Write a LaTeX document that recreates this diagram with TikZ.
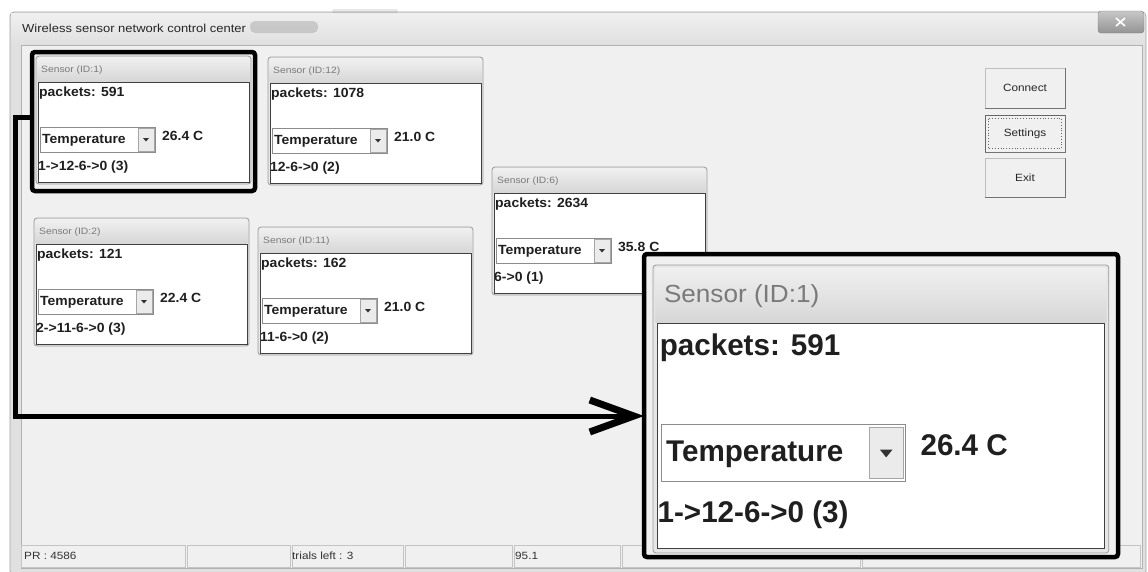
\documentclass[tikz,border=0pt]{standalone}
\usepackage{fontspec}
\setmainfont{Liberation Sans}
\newfontfamily\uibold[FakeStretch=1.05]{Liberation Sans Bold}
\newfontfamily\uilight[FakeStretch=1.12]{Liberation Sans}
\usetikzlibrary{arrows.meta}

\definecolor{winbg}{HTML}{F0F0F0}
\definecolor{winframe}{HTML}{A4A4A4}
\definecolor{titletop}{HTML}{F0F0F0}
\definecolor{titlebot}{HTML}{E0E0E0}
\definecolor{grpline}{HTML}{9C9C9C}
\definecolor{grpfill}{HTML}{E6E6E6}
\definecolor{grpshade}{HTML}{D6D6D6}
\definecolor{grptext}{HTML}{7A7A7A}
\definecolor{innerline}{HTML}{404040}
\definecolor{cellline}{HTML}{C4C4C4}

\tikzset{
  ttl/.style={inner sep=0pt, anchor=west, text=grptext, font=\uilight\fontsize{9.2}{10}\selectfont},
  paneltitle/.style={},
  val/.style={inner sep=0pt, anchor=west, text=black!88, font=\uibold\fontsize{13.3}{15}\selectfont},
  uitext/.style={inner sep=0pt, anchor=west, text=black!80, font=\uilight\fontsize{10.5}{12}\selectfont},
  combo/.style={draw=black!45, fill=white, line width=0.8pt},
  dropbtn/.style={draw=black!35, fill=black!8, line width=0.6pt},
  btn/.style={draw=black!25, fill=winbg, minimum width=80pt, inner sep=0pt,
    text=black!85, font=\uilight\fontsize{10.5}{12}\selectfont},
  btnedge/.style={draw=black!55, line width=1.2pt},
  cell/.style={draw=cellline, line width=0.8pt},
  hlbox/.style={draw=black, line width=4.5pt, rounded corners=3pt, inner sep=0pt, outer sep=0pt},
  flow/.style={draw=black, line width=5pt, line join=miter,
    -{Straight Barb[length=44pt, width=32pt, line width=7pt]}},
}

% One sensor group box, drawn in local pixel units from its top-left corner
\newcommand\sensorpanel[5]{%
  \draw[draw=grpline, fill=grpfill, rounded corners=3pt, line width=0.8pt] (0,0) rectangle (215,128);
  \shade[top color=titletop, bottom color=grpshade, rounded corners=2.5pt] (1,1) rectangle (214,26);
  \draw[draw=innerline, fill=white, line width=0.9pt] (2,26) rectangle (213,126);
  \draw[combo] (4,71) rectangle (119,96);
  \draw[dropbtn] (102,72) rectangle (118,95);
  \fill[black!80] (107,82) -- (113,82) -- (110,85.5) -- cycle;
  \node[ttl, paneltitle] (#1-title) at (5,14) {#2};
  \node[val] (#1-pk) at (3,37) {packets: #3};
  \node[val] (#1-sel) at (6,84) {Temperature};
  \node[val] (#1-tv) at (126,80) {#4};
  \node[val] (#1-rt) at (2,111) {#5};
}

\begin{document}
\begin{tikzpicture}[x=1pt, y=-1pt]
\useasboundingbox (0,0) rectangle (1148,571);
\fill[white] (0,0) rectangle (1148,571);

% window frame, title bar and client area
\draw[draw=winframe, fill=black!12, rounded corners=4pt, line width=0.8pt] (10,12) rectangle (1146,575);
\shade[top color=titletop, bottom color=titlebot] (11,13) rectangle (1145,44);
\fill[black!45, opacity=0.35, rounded corners=5pt] (250,21) rectangle (318,33);
\fill[black!45, opacity=0.2, rounded corners=2pt] (332,9) rectangle (398,13);
\node[uitext, font=\uilight\fontsize{11.6}{13}\selectfont, text=black!85] (wtitle) at (22,28) {Wireless sensor network control center};
\draw[draw=black!30, fill=winbg, line width=0.6pt] (21,45) rectangle (1142,568);

% close button
\shade[top color=black!22, bottom color=black!42, draw=black!50, rounded corners=3pt] (1098,11) rectangle (1144,33);
\draw[white, line width=1.6pt] (1116,18) -- (1125,26) (1125,18) -- (1116,26);

% status bar
\draw[cell] (21,545) rectangle (185,567);
\draw[cell] (187,545) rectangle (290,567);
\draw[cell] (292,545) rectangle (403,567);
\draw[cell] (405,545) rectangle (512,567);
\draw[cell] (514,545) rectangle (620,567);
\draw[cell] (622,545) rectangle (860,567);
\draw[cell] (862,545) rectangle (1140,567);
\node[uitext] (pr) at (24,556) {PR : 4586};
\node[uitext] (trials) at (292,556) {trials left : 3};
\node[uitext] (rate) at (515,556) {95.1};

% buttons
\node[btn, minimum height=40pt] (connect) at (1025,88) {Connect};
\draw[btnedge] (connect.north east) -- (connect.south east) -- (connect.south west);
\node[btn, draw=black!60, line width=1pt, minimum height=37pt] (settings) at (1025,133.5) {Settings};
\draw[btnedge] (settings.north east) -- (settings.south east) -- (settings.south west);
\draw[black!60, dotted, line width=0.8pt] ([shift={(4,4)}]settings.north west) rectangle ([shift={(-4,-4)}]settings.south east);
\node[btn, minimum height=39pt] (exit) at (1025,177.5) {Exit};
\draw[btnedge] (exit.north east) -- (exit.south east) -- (exit.south west);

% sensor group boxes
\begin{scope}[shift={(36,56)}]
  \sensorpanel{s1}{Sensor (ID:1)}{591}{26.4 C}{1->12-6->0 (3)}
\end{scope}
\begin{scope}[shift={(268,57)}]
  \sensorpanel{s12}{Sensor (ID:12)}{1078}{21.0 C}{12-6->0 (2)}
\end{scope}
\begin{scope}[shift={(34,218)}]
  \sensorpanel{s2}{Sensor (ID:2)}{121}{22.4 C}{2->11-6->0 (3)}
\end{scope}
\begin{scope}[shift={(258,227)}]
  \sensorpanel{s11}{Sensor (ID:11)}{162}{21.0 C}{11-6->0 (2)}
\end{scope}
\begin{scope}[shift={(492,167)}]
  \sensorpanel{s6}{Sensor (ID:6)}{2634}{35.8 C}{6->0 (1)}
\end{scope}

% enlarged copy of sensor 1
\node[hlbox, fill=winbg, minimum width=474pt, minimum height=303pt] (hl2) at (881,405.5) {};
\begin{scope}[shift={(653,265)}, xscale=2.12, yscale=2.25, transform shape,
    paneltitle/.style={font=\uilight\fontsize{11}{12}\selectfont}]
  \sensorpanel{big}{Sensor (ID:1)}{591}{26.4 C}{1->12-6->0 (3)}
\end{scope}

% highlight around sensor 1 and the arrow to its enlargement
\node[hlbox, minimum width=223pt, minimum height=139pt] (hl1) at (143.5,121.5) {};
\draw[flow] ([yshift=4.5pt]hl1.west) -- ++(-17,0) |- ([yshift=-10.5pt]hl2.west);
\end{tikzpicture}
\end{document}
